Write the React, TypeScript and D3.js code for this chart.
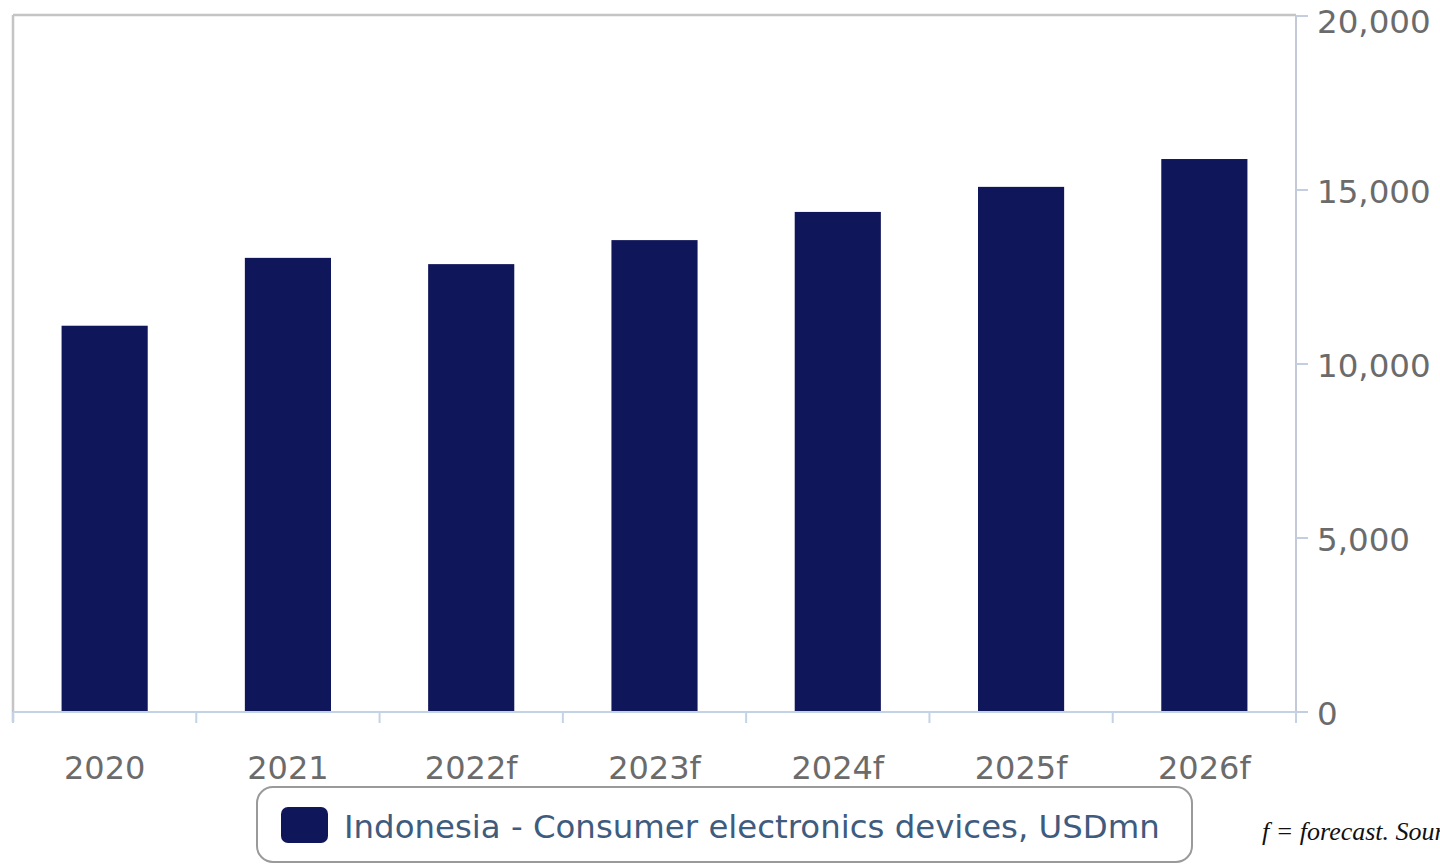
import React from "react";
import * as d3 from "d3";

const categories = ["2020", "2021", "2022f", "2023f", "2024f", "2025f", "2026f"];
const values = [11100, 13050, 12870, 13560, 14370, 15090, 15890];
const yTicks = [0, 5000, 10000, 15000, 20000];
const legendLabel = "Indonesia - Consumer electronics devices, USDmn";
const footnote = "f = forecast. Source: Fitch Solutions";

const W = 1440;
const H = 865;
const left = 13;
const right = 1296;
const top = 16;
const bottom = 712;
const barColor = "#10165a";
const font = "'DejaVu Sans', Verdana, sans-serif";

export default function App() {
  const x = d3.scaleBand<string>().domain(categories).range([left, right]).paddingInner(0.53).paddingOuter(0.265);
  const xb = d3.scaleBand<string>().domain(categories).range([left, right]);
  const y = d3.scaleLinear().domain([0, 20000]).range([bottom, top]);
  const fmt = d3.format(",");
  return (
    <svg width={W} height={H} style={{ position: "fixed", left: 0, top: 0, background: "#fff" }}>
      {/* frame */}
      <line x1={left} x2={left} y1={15} y2={bottom + 10} stroke="#c4c4c4" strokeWidth={2.5} />
      <line x1={left} x2={right} y1={15} y2={15} stroke="#c4c4c4" strokeWidth={2.5} />
      {/* bars */}
      {categories.map((c, i) => (
        <rect key={c} x={x(c)} y={y(values[i])} width={x.bandwidth()} height={bottom - y(values[i])} fill={barColor} />
      ))}
      {/* right axis */}
      <line x1={right} x2={right} y1={top} y2={bottom + 10} stroke="#c3c9d6" strokeWidth={2} />
      {yTicks.map((t) => (
        <g key={t}>
          <line x1={right} x2={right + 12} y1={y(t)} y2={y(t)} stroke="#c3cfe0" strokeWidth={2} />
          <text x={right + 21} y={Math.max(y(t) + 13, 33)} fontFamily={font} fontSize={32.5} fill="#6b6b6b">
            {fmt(t)}
          </text>
        </g>
      ))}
      {/* bottom axis */}
      <line x1={left} x2={right} y1={bottom} y2={bottom} stroke="#c3d3e6" strokeWidth={2} />
      {[...categories.map((c) => xb(c) as number), right].map((px, i) => (
        <line key={i} x1={px} x2={px} y1={bottom} y2={bottom + 11} stroke="#c3d3e6" strokeWidth={2} />
      ))}
      {categories.map((c) => (
        <text key={c} x={(xb(c) as number) + xb.bandwidth() / 2} y={779} textAnchor="middle" fontFamily={font} fontSize={32} fill="#6b6b6b">
          {c}
        </text>
      ))}
      {/* legend */}
      <rect x={257} y={787} width={935} height={75} rx={16} ry={16} fill="#fff" stroke="#9a9a9a" strokeWidth={2} />
      <rect x={281} y={807} width={47} height={36} rx={7} ry={7} fill={barColor} />
      <text x={344} y={838} fontFamily={font} fontSize={32.4} fill="#3f5b7e">
        {legendLabel}
      </text>
      {/* footnote */}
      <text x={1262} y={840} fontFamily="'Liberation Serif', 'Times New Roman', serif" fontStyle="italic" fontSize={26} fill="#111">
        {footnote}
      </text>
    </svg>
  );
}
